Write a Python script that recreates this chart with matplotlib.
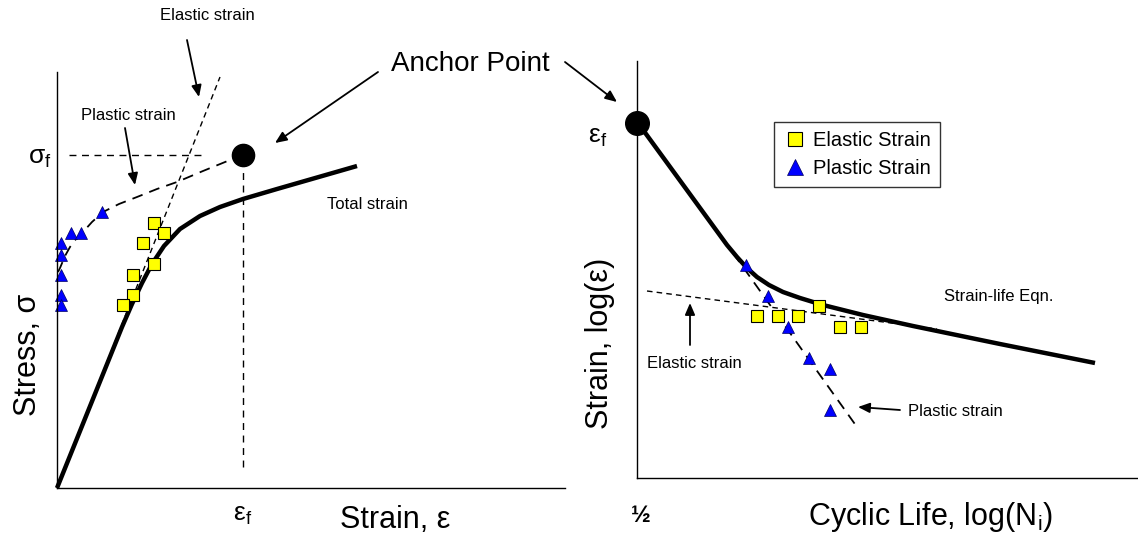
import matplotlib
matplotlib.use("Agg")
import matplotlib.pyplot as plt

plt.rcParams['font.family'] = ['Liberation Sans', 'DejaVu Sans']
plt.rcParams['mathtext.fontset'] = 'custom'
plt.rcParams['mathtext.rm'] = 'Liberation Sans'

# left panel: stress-strain (schematic units)
total_x = [0, 65, 75, 85, 95, 107, 123, 143, 163, 186, 220, 300]
total_y = [0, 161, 184, 205, 224, 242, 259, 272, 281, 289, 299, 322]
elastic_x = [0, 163]
elastic_y = [0, 411]
plastic_x = [1, 3, 8, 13, 19, 26, 35, 46, 62, 80, 100, 120, 146, 173, 186]
plastic_y = [216, 220, 232, 241, 249, 256, 266, 276, 284, 291, 299, 306, 317, 328, 333]
left_tri_x = [4, 4, 4, 4, 4, 14, 24, 45]
left_tri_y = [245, 233, 213, 193, 183, 255, 255, 276]
left_sq_x = [97, 107, 86, 97, 76, 76, 66]
left_sq_y = [265, 255, 245, 224, 213, 193, 183]
anchor_left = (186, 333)

# right panel: strain-life (schematic units)
life_x = [1, 90, 100, 110, 120, 132, 146, 163, 186, 226, 276, 363, 458]
life_y = [355, 233, 221, 210, 201, 193, 186, 180, 173, 163, 152, 134, 115]
el_life_x = [10, 300]
el_life_y = [187, 149]
pl_life_x = [96, 220]
pl_life_y = [225, 51]
right_tri_x = [109, 131, 151, 172, 193, 193]
right_tri_y = [213, 182, 151, 120, 109, 68]
right_sq_x = [120, 141, 161, 182, 203, 224]
right_sq_y = [162, 162, 162, 172, 151, 151]
anchor_right = (0, 355)

fig = plt.figure(figsize=(11.38, 5.35), dpi=100)
ax1 = fig.add_axes([57 / 1138, 47 / 535, 508 / 1138, 416 / 535])
ax2 = fig.add_axes([637 / 1138, 57 / 535, 501 / 1138, 417 / 535])

for ax in (ax1, ax2):
    ax.spines['top'].set_visible(False)
    ax.spines['right'].set_visible(False)
    ax.spines['left'].set_linewidth(1.0)
    ax.spines['bottom'].set_linewidth(1.0)
    ax.set_xticks([])
    ax.set_yticks([])
    ax.patch.set_alpha(0)
ax1.set_xlim(0, 508)
ax1.set_ylim(0, 416)
ax2.set_xlim(0, 501)
ax2.set_ylim(0, 417)

arrow = dict(arrowstyle='-|>,head_length=0.7,head_width=0.3', color='k', lw=1.3,
             shrinkA=0, shrinkB=0)
small = 12
big = 22

# ---- left panel
ax1.plot(elastic_x, elastic_y, 'k', lw=1, dashes=(4, 3), clip_on=False)
ax1.plot(plastic_x, plastic_y, 'k', lw=1.3, dashes=(6, 4), clip_on=False)
ax1.plot([12, 146], [anchor_left[1]] * 2, 'k', lw=1, dashes=(5, 4))
ax1.plot([anchor_left[0]] * 2, [21, 318], 'k', lw=1, dashes=(5, 4))
ax1.plot(total_x, total_y, 'k', lw=3.2, solid_capstyle='butt', solid_joinstyle='round', clip_on=False)
ax1.plot(left_sq_x, left_sq_y, 's', ms=8, mfc='#FFFF00', mec='k', mew=0.8, ls='none', clip_on=False)
ax1.plot(left_tri_x, left_tri_y, '^', ms=9, mfc='#0000FF', mec='#000060', mew=0.5, ls='none', clip_on=False)
ax1.plot(*anchor_left, 'o', ms=16, color='k', clip_on=False)

ax1.text(150, 473, 'Elastic strain', fontsize=small, ha='center', va='center')
ax1.annotate('', xy=(142, 391), xytext=(130, 448), arrowprops=arrow, annotation_clip=False)
ax1.text(71, 373, 'Plastic strain', fontsize=small, ha='center', va='center')
ax1.annotate('', xy=(78, 303), xytext=(68, 360), arrowprops=arrow, annotation_clip=False)
ax1.text(270, 284, 'Total strain', fontsize=small, ha='left', va='center')
ax1.text(-17, 330, 'σ$_\\mathregular{f}$', fontsize=19, ha='center', va='center')
ax1.text(-29, 133, 'Stress, σ', fontsize=big, rotation=90, ha='center', va='center')
ax1.text(186, -27, 'ε$_\\mathregular{f}$', fontsize=19, ha='center', va='center')
ax1.text(338, -32, 'Strain, ε', fontsize=big, ha='center', va='center')
ax1.text(413, 424, 'Anchor Point', fontsize=20, ha='center', va='center')
ax1.annotate('', xy=(218, 345), xytext=(321, 416), arrowprops=arrow, annotation_clip=False)

# ---- right panel
ax2.plot(el_life_x, el_life_y, 'k', lw=1, dashes=(4, 3), clip_on=False)
ax2.plot(pl_life_x, pl_life_y, 'k', lw=1.3, dashes=(6, 4), clip_on=False)
ax2.plot(life_x, life_y, 'k', lw=3.2, solid_capstyle='butt', solid_joinstyle='round', clip_on=False)
ax2.plot(right_sq_x, right_sq_y, 's', ms=8, mfc='#FFFF00', mec='k', mew=0.8, ls='none',
         clip_on=False, label='Elastic Strain')
ax2.plot(right_tri_x, right_tri_y, '^', ms=9, mfc='#0000FF', mec='#000060', mew=0.5, ls='none',
         clip_on=False, label='Plastic Strain')
ax2.plot(*anchor_right, 'o', ms=17, color='k', clip_on=False)

leg = ax2.legend(loc='upper left', bbox_to_anchor=(0.273, 0.854), borderaxespad=0,
                 fontsize=14.5, frameon=True, fancybox=False, edgecolor='k', markerscale=1.3,
                 handlelength=1.2, handletextpad=0.3, borderpad=0.45, labelspacing=0.45)
leg.get_frame().set_linewidth(1.0)

ax2.text(-39, 341, 'ε$_\\mathregular{f}$', fontsize=19, ha='center', va='center')
ax2.text(-37, 135, 'Strain, log(ε)', fontsize=big, rotation=90, ha='center', va='center')
ax2.text(4, -37, '½', fontsize=17, fontweight='bold', ha='center', va='center')
ax2.text(294, -39, 'Cyclic Life, log(N$_\\mathregular{i}$)', fontsize=big, ha='center', va='center')
ax2.text(307, 181, 'Strain-life Eqn.', fontsize=small, ha='left', va='center')
ax2.text(57, 115, 'Elastic strain', fontsize=small, ha='center', va='center')
ax2.annotate('', xy=(53, 175), xytext=(53, 133), arrowprops=arrow, annotation_clip=False)
ax2.text(271, 66, 'Plastic strain', fontsize=small, ha='left', va='center')
ax2.annotate('', xy=(221, 71), xytext=(263, 68), arrowprops=arrow, annotation_clip=False)
ax2.annotate('', xy=(-20, 376), xytext=(-72, 416), arrowprops=arrow, annotation_clip=False)

fig.savefig('out.png', dpi=100)
